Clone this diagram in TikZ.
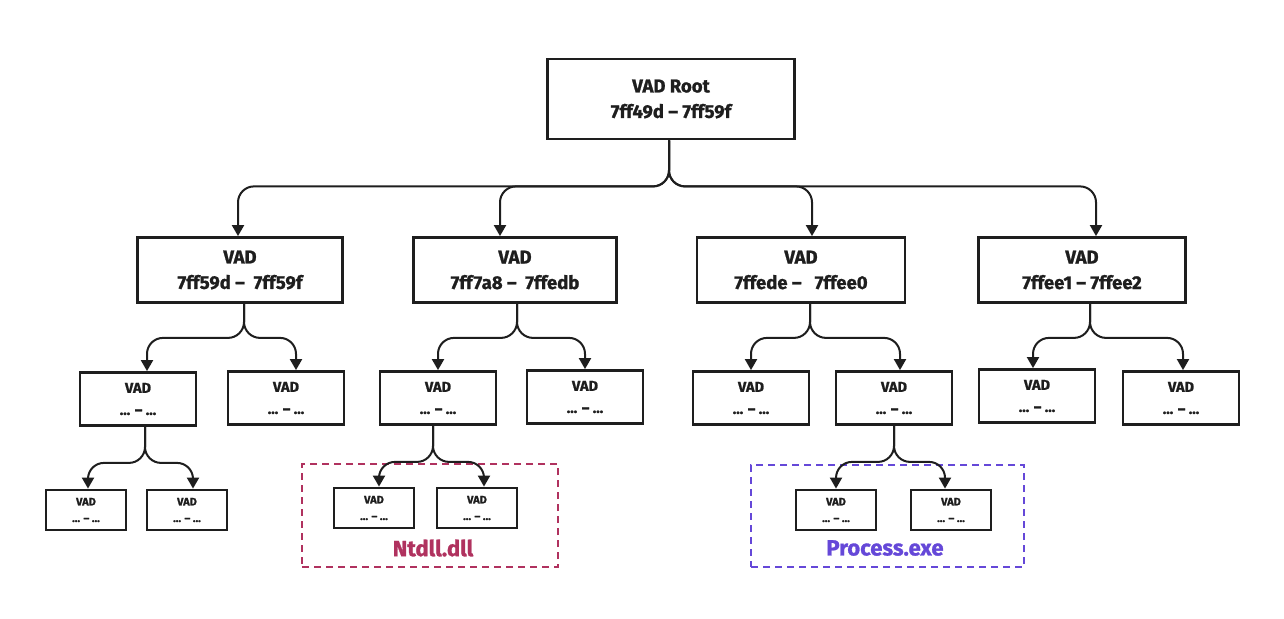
\documentclass[tikz,border=0pt]{standalone}
\usepackage{fontspec}
\setmainfont{Fira Sans}[BoldFeatures={FakeBold=1.2}]
\usetikzlibrary{arrows.meta}
\definecolor{ink}{HTML}{1E1E1E}
\definecolor{ntc}{HTML}{B0325F}
\definecolor{prc}{HTML}{6548D8}
\begin{document}
\begin{tikzpicture}[x=1pt,y=-1pt,
 box/.style={draw=ink, line width=2.8pt, fill=white, inner sep=0pt, align=center, text=ink},
 big/.style={box, font=\bfseries\fontsize{18.5}{25.5}\selectfont, minimum height=65pt},
 mid/.style={box, font=\bfseries\fontsize{14.5}{22}\selectfont, minimum width=116pt, minimum height=53pt},
 sml/.style={box, font=\bfseries\fontsize{11}{16.5}\selectfont, minimum width=80pt, minimum height=40pt},
 grp/.style={line width=2.2pt, dash pattern=on 7pt off 5pt, inner sep=0pt},
 glabel/.style={font=\bfseries\fontsize{22}{26}\selectfont},
 link/.style={draw=ink, line width=2pt, rounded corners=16pt, -{Triangle[length=11pt,width=12pt]}},
]
\useasboundingbox (0,0) rectangle (1284,618);

% groups
\node[grp, draw=ntc, minimum width=256pt, minimum height=103pt] (ntgrp) at (430,515.5) {};
\node[glabel, text=ntc] (ntlab) at (433,548) {Ntdll.dll};
\node[grp, draw=prc, minimum width=273pt, minimum height=102pt] (prgrp) at (887.5,516) {};
\node[glabel, text=prc] (prlab) at (885,548) {Process.exe};

% root
\node[big, minimum width=247pt, minimum height=80pt] (root) at (671,99) {VAD Root\\7ff49d -- 7ff59f};

% level 1
\node[big, minimum width=205pt] (a) at (240,270) {VAD\\7ff59d --\ \ 7ff59f};
\node[big, minimum width=203pt] (b) at (515,270) {VAD\\7ff7a8 --\ \ 7ffedb};
\node[big, minimum width=208pt] (c) at (801,270) {VAD\\7ffede --\ \ \ 7ffee0};
\node[big, minimum width=207pt] (d) at (1082,270) {VAD\\7ffee1 -- 7ffee2};

% level 2
\node[mid] (a1) at (138,399) {VAD\\... -- ...};
\node[mid] (a2) at (286,398) {VAD\\... -- ...};
\node[mid] (b1) at (438,398) {VAD\\... -- ...};
\node[mid] (b2) at (585,397) {VAD\\... -- ...};
\node[mid] (c1) at (751,398) {VAD\\... -- ...};
\node[mid] (c2) at (894,398) {VAD\\... -- ...};
\node[mid] (d1) at (1037,396) {VAD\\... -- ...};
\node[mid] (d2) at (1181,398) {VAD\\... -- ...};

% level 3
\node[sml] (a11) at (86,510) {VAD\\... -- ...};
\node[sml] (a12) at (187,510) {VAD\\... -- ...};
\node[sml] (b11) at (374,508) {VAD\\... -- ...};
\node[sml] (b12) at (477,508) {VAD\\... -- ...};
\node[sml] (c21) at (836,510) {VAD\\... -- ...};
\node[sml] (c22) at (951,510) {VAD\\... -- ...};

% connectors root -> level 1
\draw[link] ([xshift=-2pt]root.south) -- ++(0,46) -| ([xshift=-2pt]a.north);
\draw[link] ([xshift=-2pt]root.south) -- ++(0,46) -| ([xshift=-15pt]b.north);
\draw[link] ([xshift=-2pt]root.south) -- ++(0,46) -| ([xshift=11pt]c.north);
\draw[link] ([xshift=-2pt]root.south) -- ++(0,46) -| ([xshift=14pt]d.north);

% level 1 -> level 2
\draw[link] ([xshift=4pt]a.south) -- ++(0,34) -| ([xshift=9pt]a1.north);
\draw[link] ([xshift=4pt]a.south) -- ++(0,34) -| ([xshift=10pt]a2.north);
\draw[link] ([xshift=2pt]b.south) -- ++(0,34) -| (b1.north);
\draw[link] ([xshift=2pt]b.south) -- ++(0,34) -| (b2.north);
\draw[link] ([xshift=9pt]c.south) -- ++(0,34) -| (c1.north);
\draw[link] ([xshift=9pt]c.south) -- ++(0,34) -| ([xshift=6pt]c2.north);
\draw[link] ([xshift=8pt]d.south) -- ++(0,34) -| ([xshift=-4pt]d1.north);
\draw[link] ([xshift=8pt]d.south) -- ++(0,34) -| ([xshift=2pt]d2.north);

% level 2 -> level 3
\draw[link] ([xshift=7pt]a1.south) -- ++(0,36) -| ([xshift=2pt]a11.north);
\draw[link] ([xshift=7pt]a1.south) -- ++(0,36) -| ([xshift=6pt]a12.north);
\draw[link] ([xshift=-5pt]b1.south) -- ++(0,36) -| ([xshift=5pt]b11.north);
\draw[link] ([xshift=-5pt]b1.south) -- ++(0,36) -| ([xshift=7pt]b12.north);
\draw[link] (c2.south) -- ++(0,36) -| (c21.north);
\draw[link] (c2.south) -- ++(0,36) -| ([xshift=-6pt]c22.north);
\end{tikzpicture}
\end{document}
